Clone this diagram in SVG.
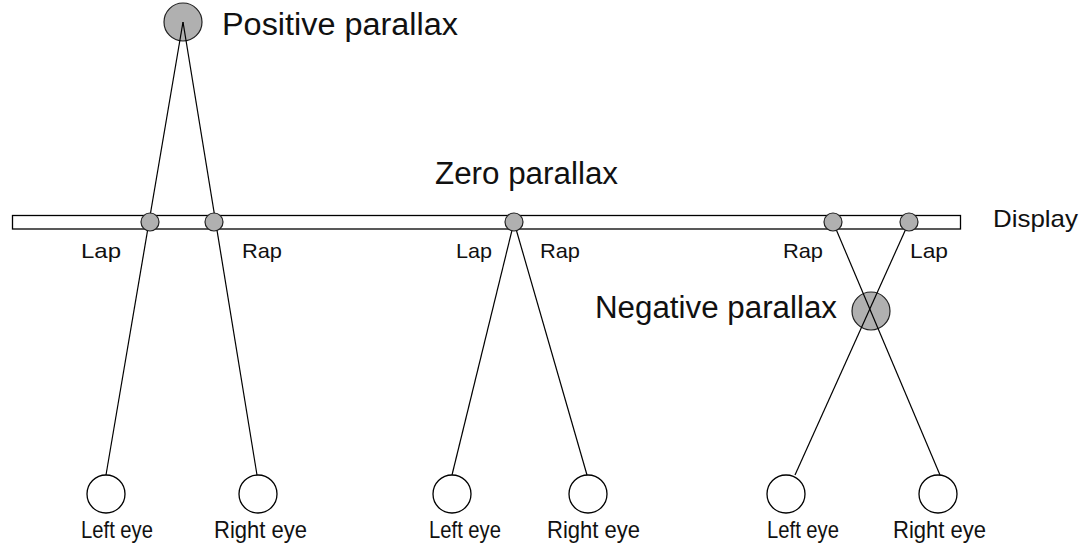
<svg xmlns="http://www.w3.org/2000/svg" width="1089" height="547" viewBox="0 0 1089 547">
<style>
text{font-family:"Liberation Sans",Arial,sans-serif;fill:#111}
.big{font-size:31px}
.mid{font-size:24px}
.sm{font-size:21px}
.ln{stroke:#000;stroke-width:1.2;fill:none}
.pt{fill:#b0b0b0;stroke:#222;stroke-width:1.2}
.eye{fill:#fff;stroke:#000;stroke-width:1.3}
</style>
<rect width="1089" height="547" fill="#fff"/>
<g id="display">
<rect x="12.5" y="215.5" width="948" height="13.5" fill="#fff" stroke="#000" stroke-width="1.3"/>
<text class="mid" x="993" y="227" textLength="85" lengthAdjust="spacingAndGlyphs">Display</text>
</g>
<g id="zero-label"><text class="big" x="435" y="184" textLength="183" lengthAdjust="spacingAndGlyphs">Zero parallax</text></g>
<g id="positive">
<circle class="pt" cx="183" cy="22" r="19"/>
<text class="big" x="222" y="35" textLength="236" lengthAdjust="spacingAndGlyphs">Positive parallax</text>
</g>
<g id="negative">
<circle class="pt" cx="871" cy="311" r="19"/>
<text class="big" x="595" y="318" textLength="242" lengthAdjust="spacingAndGlyphs">Negative parallax</text>
</g>
<g id="connectors">
<line class="ln" x1="183" y1="22" x2="106" y2="475"/>
<line class="ln" x1="183" y1="22" x2="257" y2="475"/>
<line class="ln" x1="514" y1="222" x2="452" y2="475"/>
<line class="ln" x1="514" y1="222" x2="587" y2="475"/>
<line class="ln" x1="833" y1="222" x2="940" y2="475"/>
<line class="ln" x1="909" y1="222" x2="795" y2="475"/>
</g>
<g id="aps">
<circle class="pt" cx="150" cy="222" r="9"/>
<circle class="pt" cx="214" cy="222" r="9"/>
<circle class="pt" cx="514" cy="222" r="9"/>
<circle class="pt" cx="833" cy="222" r="9"/>
<circle class="pt" cx="909" cy="222" r="9"/>
<text class="sm" x="81" y="258" textLength="40" lengthAdjust="spacingAndGlyphs">Lap</text>
<text class="sm" x="242" y="258" textLength="40" lengthAdjust="spacingAndGlyphs">Rap</text>
<text class="sm" x="456" y="258" textLength="36" lengthAdjust="spacingAndGlyphs">Lap</text>
<text class="sm" x="540" y="258" textLength="40" lengthAdjust="spacingAndGlyphs">Rap</text>
<text class="sm" x="783" y="258" textLength="40" lengthAdjust="spacingAndGlyphs">Rap</text>
<text class="sm" x="910" y="258" textLength="38" lengthAdjust="spacingAndGlyphs">Lap</text>
</g>
<g id="eyes1">
<circle class="eye" cx="106" cy="494" r="19"/>
<circle class="eye" cx="258" cy="494" r="19"/>
<text class="mid" x="81" y="538" textLength="72" lengthAdjust="spacingAndGlyphs">Left eye</text>
<text class="mid" x="214" y="538" textLength="93" lengthAdjust="spacingAndGlyphs">Right eye</text>
</g>
<g id="eyes2">
<circle class="eye" cx="452" cy="494" r="19"/>
<circle class="eye" cx="588" cy="494" r="19"/>
<text class="mid" x="429" y="538" textLength="72" lengthAdjust="spacingAndGlyphs">Left eye</text>
<text class="mid" x="547" y="538" textLength="93" lengthAdjust="spacingAndGlyphs">Right eye</text>
</g>
<g id="eyes3">
<circle class="eye" cx="786" cy="494" r="19"/>
<circle class="eye" cx="938" cy="494" r="19"/>
<text class="mid" x="767" y="538" textLength="72" lengthAdjust="spacingAndGlyphs">Left eye</text>
<text class="mid" x="893" y="538" textLength="93" lengthAdjust="spacingAndGlyphs">Right eye</text>
</g>
</svg>
